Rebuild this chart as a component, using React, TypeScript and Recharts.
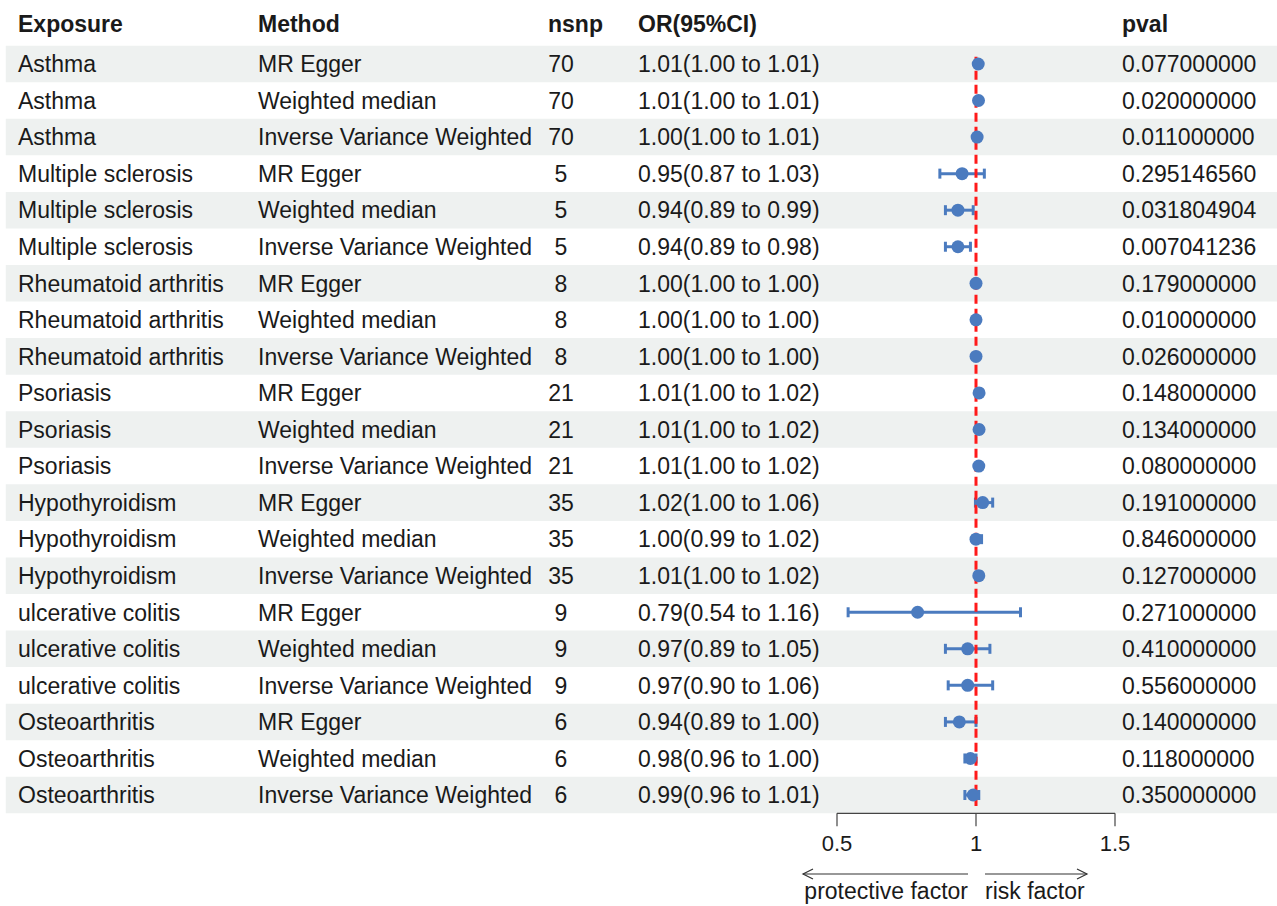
import React from 'react';
import {
  ScatterChart,
  Scatter,
  XAxis,
  YAxis,
  ErrorBar,
  ReferenceLine,
  ReferenceArea,
} from 'recharts';

const headers = ['Exposure', 'Method', 'nsnp', 'OR(95%CI)', 'pval'];

const exposures = [
  'Asthma', 'Asthma', 'Asthma',
  'Multiple sclerosis', 'Multiple sclerosis', 'Multiple sclerosis',
  'Rheumatoid arthritis', 'Rheumatoid arthritis', 'Rheumatoid arthritis',
  'Psoriasis', 'Psoriasis', 'Psoriasis',
  'Hypothyroidism', 'Hypothyroidism', 'Hypothyroidism',
  'ulcerative colitis', 'ulcerative colitis', 'ulcerative colitis',
  'Osteoarthritis', 'Osteoarthritis', 'Osteoarthritis',
];

const methodCycle = ['MR Egger', 'Weighted median', 'Inverse Variance Weighted'];
const methods = exposures.map((_, i) => methodCycle[i % 3]);

const nsnps = [70, 70, 70, 5, 5, 5, 8, 8, 8, 21, 21, 21, 35, 35, 35, 9, 9, 9, 6, 6, 6];

const orValues = [
  1.008, 1.009, 1.004, 0.95, 0.935, 0.935, 1.0, 1.0, 1.0, 1.011, 1.011, 1.01,
  1.024, 1.0, 1.01, 0.79, 0.97, 0.97, 0.94, 0.98, 0.99,
];
const lowerCI = [
  1.002, 1.004, 1.001, 0.87, 0.89, 0.89, 0.998, 0.998, 0.999, 1.003, 1.003, 1.004,
  0.998, 0.99, 1.0, 0.54, 0.89, 0.9, 0.89, 0.96, 0.96,
];
const upperCI = [
  1.014, 1.014, 1.008, 1.03, 0.99, 0.98, 1.002, 1.002, 1.001, 1.02, 1.02, 1.016,
  1.06, 1.02, 1.02, 1.16, 1.05, 1.06, 1.0, 1.0, 1.01,
];

const orLabels = [
  '1.01(1.00 to 1.01)', '1.01(1.00 to 1.01)', '1.00(1.00 to 1.01)',
  '0.95(0.87 to 1.03)', '0.94(0.89 to 0.99)', '0.94(0.89 to 0.98)',
  '1.00(1.00 to 1.00)', '1.00(1.00 to 1.00)', '1.00(1.00 to 1.00)',
  '1.01(1.00 to 1.02)', '1.01(1.00 to 1.02)', '1.01(1.00 to 1.02)',
  '1.02(1.00 to 1.06)', '1.00(0.99 to 1.02)', '1.01(1.00 to 1.02)',
  '0.79(0.54 to 1.16)', '0.97(0.89 to 1.05)', '0.97(0.90 to 1.06)',
  '0.94(0.89 to 1.00)', '0.98(0.96 to 1.00)', '0.99(0.96 to 1.01)',
];

const pvals = [
  '0.077000000', '0.020000000', '0.011000000',
  '0.295146560', '0.031804904', '0.007041236',
  '0.179000000', '0.010000000', '0.026000000',
  '0.148000000', '0.134000000', '0.080000000',
  '0.191000000', '0.846000000', '0.127000000',
  '0.271000000', '0.410000000', '0.556000000',
  '0.140000000', '0.118000000', '0.350000000',
];

const xTicks = [0.5, 1, 1.5];

const rowIds = exposures.map((_, i) => i + 1);
const data = rowIds.map((row, i) => ({
  row,
  or: orValues[i],
  err: [orValues[i] - lowerCI[i], upperCI[i] - orValues[i]],
}));

const FONT = '"Liberation Sans", Arial, Helvetica, sans-serif';
const TEXT = '#1a1a1a';
const BLUE = '#4b7bbf';
const BAND = '#eef1f0';
const colX = [18, 258, 561, 638, 1122];

const RowTick = (props: any) => {
  const { y, payload } = props;
  const i = payload.value - 1;
  if (i < 0 || i >= exposures.length) return null;
  const common = { y, dy: '0.36em', fontSize: 23, fontFamily: FONT, fill: TEXT };
  return (
    <g>
      <text x={colX[0]} {...common}>{exposures[i]}</text>
      <text x={colX[1]} {...common}>{methods[i]}</text>
      <text x={colX[2]} textAnchor="middle" {...common}>{nsnps[i]}</text>
      <text x={colX[3]} {...common}>{orLabels[i]}</text>
      <text x={colX[4]} {...common}>{pvals[i]}</text>
    </g>
  );
};

const AxisTick = (props: any) => {
  const { x, y, payload } = props;
  return (
    <text x={x} y={y} dy="0.36em" textAnchor="middle" fontSize={22} fontFamily={FONT} fill={TEXT}>
      {payload.value}
    </text>
  );
};

export default function App() {
  return (
    <div style={{ position: 'absolute', left: 0, top: 0, width: 1277, height: 906, background: '#fff' }}>
      <ScatterChart
        width={1277}
        height={906}
        margin={{ top: 45.7, right: 162, bottom: 42.7, left: 0 }}
      >
        <XAxis
          type="number"
          dataKey="or"
          domain={[0.5, 1.5]}
          ticks={xTicks}
          allowDataOverflow
          height={50}
          tickSize={13}
          tickMargin={17}
          tickLine={{ stroke: '#444', strokeWidth: 1.2 }}
          axisLine={{ stroke: '#444', strokeWidth: 1.2 }}
          tick={<AxisTick />}
        />
        <YAxis
          type="number"
          dataKey="row"
          domain={[0.5, 21.5]}
          reversed
          ticks={rowIds}
          interval={0}
          width={837}
          axisLine={false}
          tickLine={false}
          tick={<RowTick />}
        />
        {rowIds
          .filter((r) => r % 2 === 1)
          .map((r) => (
            <ReferenceArea
              key={r}
              x1={-2.49}
              x2={2.1}
              y1={r - 0.5}
              y2={r + 0.5}
              fill={BAND}
              fillOpacity={1}
              stroke="none"
              ifOverflow="visible"
            />
          ))}
        <Scatter
          data={data}
          fill={BLUE}
          isAnimationActive={false}
          shape={(p: any) => <circle cx={p.cx} cy={p.cy} r={6.5} fill={BLUE} />}
        >
          <ErrorBar
            dataKey="err"
            direction="x"
            width={5}
            stroke={BLUE}
            strokeWidth={3}
            isAnimationActive={false}
          />
        </Scatter>
        <ReferenceLine
          segment={[{ x: 1, y: 0.8 }, { x: 1, y: 21.3 }]}
          stroke="#ff1a1a"
          strokeWidth={3}
          strokeDasharray="9 5"
          ifOverflow="visible"
        />
      </ScatterChart>
      <svg
        width={1277}
        height={906}
        style={{ position: 'absolute', left: 0, top: 0, pointerEvents: 'none' }}
      >
        {headers.map((h, i) => (
          <text
            key={h}
            x={i === 2 ? 548 : colX[i]}
            y={24}
            dy="0.36em"
            fontSize={23}
            fontWeight="bold"
            fontFamily={FONT}
            fill={TEXT}
          >
            {h}
          </text>
        ))}
        <g stroke="#333" strokeWidth={1.2} fill="none">
          <line x1={968} y1={874} x2={803} y2={874} />
          <polyline points="813,869 803,874 813,879" />
          <line x1={985} y1={874} x2={1087} y2={874} />
          <polyline points="1077,869 1087,874 1077,879" />
        </g>
        <text x={968} y={891} dy="0.36em" textAnchor="end" fontSize={23} fontFamily={FONT} fill={TEXT}>
          protective factor
        </text>
        <text x={985} y={891} dy="0.36em" fontSize={23} fontFamily={FONT} fill={TEXT}>
          risk factor
        </text>
      </svg>
    </div>
  );
}
